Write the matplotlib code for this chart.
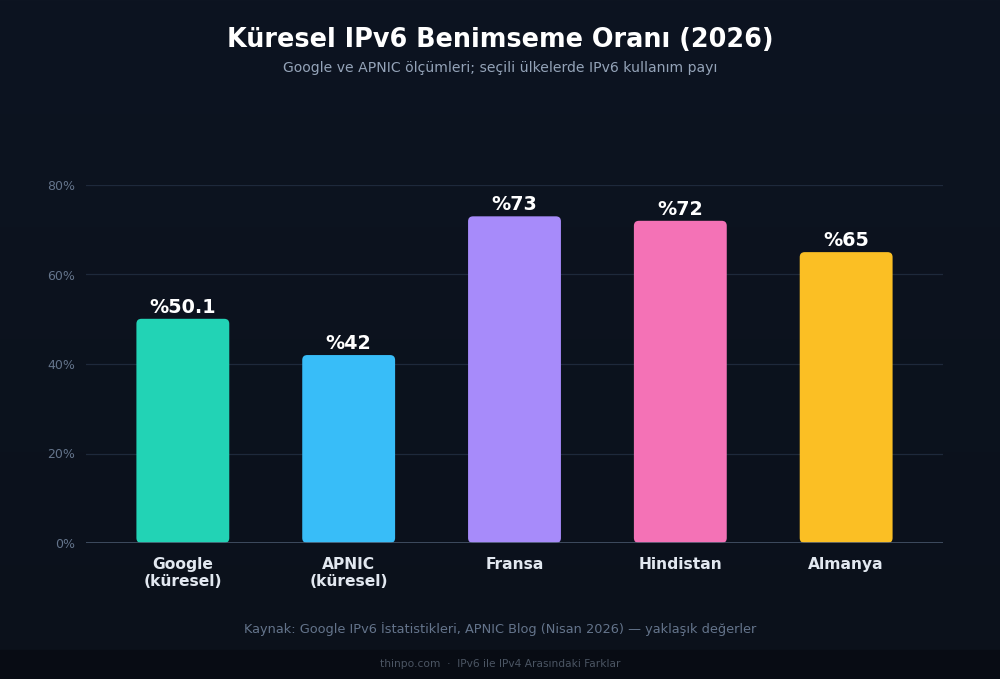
import matplotlib
matplotlib.use("Agg")
import matplotlib.pyplot as plt
from matplotlib.patches import FancyBboxPatch
from matplotlib.colors import LinearSegmentedColormap
import numpy as np

plt.rcParams['font.family'] = ['DejaVu Sans']

categories = ["Google\n(küresel)", "APNIC\n(küresel)", "Fransa", "Hindistan", "Almanya"]
values = [50.1, 42, 73, 72, 65]
value_labels = ["%50.1", "%42", "%73", "%72", "%65"]
colors = ["#22d3b5", "#38bdf8", "#a78bfa", "#f472b6", "#fbbf24"]
yticks = [0, 20, 40, 60, 80]
ytick_labels = ["0%", "20%", "40%", "60%", "80%"]

W, H = 1000, 679
fig = plt.figure(figsize=(W/100, H/100), dpi=100)

# background gradient
bg = fig.add_axes([0, 0, 1, 1], zorder=-10)
grad = np.linspace(0, 1, 256).reshape(-1, 1)
cmap = LinearSegmentedColormap.from_list("bg", ["#0d1421", "#0b111b"])
bg.imshow(grad, aspect="auto", cmap=cmap, extent=[0, 1, 0, 1], origin="upper")
bg.axhspan(0, 29/H, color="#080c14")
bg.set_xlim(0, 1); bg.set_ylim(0, 1)
bg.axis("off")

# axes: x 86..943, y 0% at 543, 80% at 185
ax_left = 86/W
ax_w = (943-86)/W
ax_bottom = 1 - 543/H
ax_h = (543-185)/H
ax = fig.add_axes([ax_left, ax_bottom, ax_w, ax_h])
ax.set_facecolor("none")
ax.set_xlim(-0.584, 4.584)
ax.set_ylim(0, 80)

for t in yticks[1:]:
    ax.axhline(t, color="#1e293b", lw=0.9, zorder=0)
ax.axhline(0, color="#475569", lw=1.2, zorder=3)

bw = 0.56
px_x = (943-86)/5.168
px_y = (543-185)/80
rs = 5/px_x
for i, (v, c) in enumerate(zip(values, colors)):
    p = FancyBboxPatch((i-bw/2, 0), bw, v,
                       boxstyle=f"round,pad=0,rounding_size={rs}",
                       mutation_aspect=px_x/px_y, fc=c, ec="none", zorder=2)
    ax.add_patch(p)
    ax.text(i, v + 0.5, value_labels[i], ha="center", va="bottom",
            color="#ffffff", fontsize=13.8, fontweight="bold", clip_on=False)

for s in ax.spines.values():
    s.set_visible(False)
ax.set_yticks(yticks)
ax.set_yticklabels(ytick_labels, color="#64748b", fontsize=9)
ax.set_xticks(range(len(categories)))
ax.set_xticklabels(categories, color="#e2e8f0", fontsize=11.2, fontweight="bold",
                   linespacing=1.2)
ax.tick_params(axis="both", length=0)
ax.tick_params(axis="x", pad=10)
ax.tick_params(axis="y", pad=8)

fig.text(0.5, 1 - 40/H, "Küresel IPv6 Benimseme Oranı (2026)", ha="center", va="center",
         color="#ffffff", fontsize=18.4, fontweight="bold")
fig.text(0.5, 1 - 68/H, "Google ve APNIC ölçümleri; seçili ülkelerde IPv6 kullanım payı",
         ha="center", va="center", color="#94a3b8", fontsize=10.1)
fig.text(0.5, 1 - 629/H, "Kaynak: Google IPv6 İstatistikleri, APNIC Blog (Nisan 2026) — yaklaşık değerler",
         ha="center", va="center", color="#64748b", fontsize=9.25)
fig.text(0.5, 1 - 664/H, "thinpo.com  ·  IPv6 ile IPv4 Arasındaki Farklar",
         ha="center", va="center", color="#4b5563", fontsize=7.7)

fig.savefig("out.png", dpi=100, facecolor="#0c121d")
